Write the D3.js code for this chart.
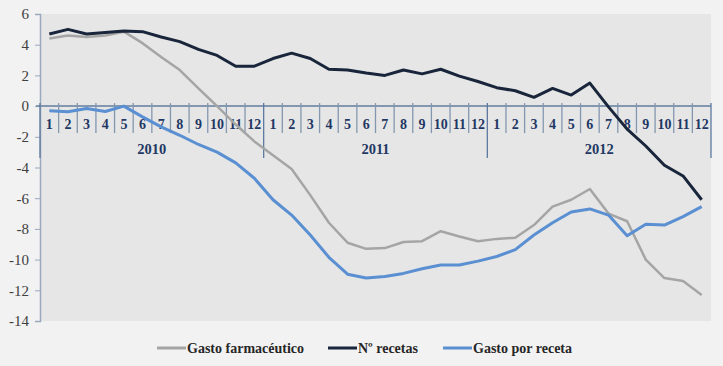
<!DOCTYPE html>
<head>
  <meta charset="utf-8">
  <script src="https://d3js.org/d3.v7.min.js"></script>
  <style>
    body { margin: 0; background: #f2f2f2; }
    svg { display: block; }
  </style>
</head>

<body>
  <svg width="723" height="366"></svg>
  <script>
    // data
    var years = ["2010", "2011", "2012"];
    var months = ["1", "2", "3", "4", "5", "6", "7", "8", "9", "10", "11", "12"];
    var yTicks = [-14, -12, -10, -8, -6, -4, -2, 0, 2, 4, 6];

    var gastoFarma = [4.4, 4.6, 4.5, 4.6, 4.85, 4.1, 3.2, 2.35, 1.15, 0.0, -1.2, -2.3,
                      -3.2, -4.1, -5.8, -7.6, -8.9, -9.3, -9.25, -8.85, -8.8, -8.15, -8.5, -8.8,
                      -8.65, -8.58, -7.75, -6.55, -6.1, -5.4, -7.0, -7.5, -10.0, -11.2, -11.4, -12.3];
    var nRecetas = [4.7, 5.0, 4.7, 4.8, 4.9, 4.85, 4.5, 4.2, 3.7, 3.3, 2.6, 2.6,
                    3.1, 3.45, 3.1, 2.4, 2.35, 2.15, 2.0, 2.35, 2.1, 2.4, 1.95, 1.6,
                    1.2, 1.0, 0.57, 1.15, 0.72, 1.5, -0.05, -1.5, -2.6, -3.85, -4.55, -6.1];
    var gastoReceta = [-0.3, -0.37, -0.15, -0.35, 0.0, -0.7, -1.35, -1.9, -2.5, -3.0, -3.7, -4.7,
                       -6.1, -7.1, -8.4, -9.85, -10.95, -11.2, -11.1, -10.9, -10.6, -10.35, -10.35, -10.1,
                       -9.8, -9.35, -8.4, -7.6, -6.9, -6.7, -7.1, -8.45, -7.7, -7.75, -7.2, -6.55];

    var series = [
      { name: "Gasto farmacéutico", values: gastoFarma, color: "#a5a5a5", width: 2.5 },
      { name: "Nº recetas", values: nRecetas, color: "#18253a", width: 3 },
      { name: "Gasto por receta", values: gastoReceta, color: "#5a8fd2", width: 3 }
    ];

    // categories: every month of every year
    var cats = [];
    years.forEach(function(y) {
      months.forEach(function(m) { cats.push(y + "-" + m); });
    });

    // options
    var margin = { top: 14, right: 12, bottom: 45, left: 40 };
    var width = 723, height = 366;
    var axisColor = "#8497b0";
    var textColor = "#1f3864";

    // scales
    var x = d3.scaleBand()
      .domain(cats)
      .range([margin.left, width - margin.right]);
    var y = d3.scaleLinear()
      .domain([-14, 6])
      .range([height - margin.bottom, margin.top]);

    var svg = d3.select('svg');

    // plot area
    svg.append('rect')
      .attr('x', margin.left)
      .attr('y', margin.top)
      .attr('width', width - margin.right - margin.left)
      .attr('height', y(-14) - y(6))
      .attr('fill', '#e6e6e6');

    // y axis
    var yAxis = d3.axisLeft(y)
      .tickValues(yTicks)
      .tickSize(5)
      .tickPadding(6)
      .tickFormat(d3.format('d'));
    var gy = svg.append('g')
      .attr('transform', 'translate(' + margin.left + ',0)')
      .call(yAxis);
    gy.select('.domain').attr('stroke', '#9aa9bd').attr('stroke-width', 1.5);
    gy.selectAll('.tick line').attr('stroke', '#9aa9bd');
    gy.selectAll('.tick text')
      .attr('fill', '#404040')
      .style('font-family', '"Liberation Serif", serif')
      .style('font-size', '15px')
      .text(function(d) { return d < 0 ? '-' + Math.abs(d) : d; });

    // x axis at zero
    var y0 = y(0);
    svg.append('line')
      .attr('x1', margin.left - 4).attr('x2', width - margin.right)
      .attr('y1', y0).attr('y2', y0)
      .attr('stroke', axisColor).attr('stroke-width', 2);

    // month separators
    svg.selectAll('.mtick')
      .data(cats.concat(['end']))
      .enter().append('line')
      .attr('class', 'mtick')
      .attr('x1', function(d, i) { return margin.left + i * x.bandwidth(); })
      .attr('x2', function(d, i) { return margin.left + i * x.bandwidth(); })
      .attr('y1', y0 - 3)
      .attr('y2', function(d, i) { return i % 12 === 0 ? y0 + 52 : y0 + 27; })
      .attr('stroke', function(d, i) { return i % 12 === 0 ? '#5d78a0' : axisColor; })
      .attr('stroke-width', 1.3);

    // month labels
    svg.selectAll('.mlabel')
      .data(cats)
      .enter().append('text')
      .attr('class', 'mlabel')
      .attr('x', function(d) { return x(d) + x.bandwidth() / 2; })
      .attr('y', y0 + 23)
      .attr('text-anchor', 'middle')
      .attr('fill', textColor)
      .style('font-family', '"Liberation Serif", serif')
      .style('font-weight', 'bold')
      .style('font-size', '14px')
      .text(function(d) { return d.split('-')[1]; });

    // year labels
    svg.selectAll('.ylabel')
      .data(years)
      .enter().append('text')
      .attr('class', 'ylabel')
      .attr('x', function(d) { return (x(d + '-1') + x(d + '-12') + x.bandwidth()) / 2; })
      .attr('y', y0 + 48)
      .attr('text-anchor', 'middle')
      .attr('fill', textColor)
      .style('font-family', '"Liberation Serif", serif')
      .style('font-weight', 'bold')
      .style('font-size', '14.5px')
      .text(function(d) { return d; });

    // lines
    var line = d3.line()
      .x(function(d, i) { return x(cats[i]) + x.bandwidth() / 2; })
      .y(function(d) { return y(d); });

    svg.selectAll('.series')
      .data(series)
      .enter().append('path')
      .attr('class', 'series')
      .attr('d', function(s) { return line(s.values); })
      .attr('fill', 'none')
      .attr('stroke', function(s) { return s.color; })
      .attr('stroke-width', function(s) { return s.width; })
      .attr('stroke-linejoin', 'round');

    // legend
    var legendX = [157, 328, 443];
    var leg = svg.selectAll('.legend')
      .data(series)
      .enter().append('g')
      .attr('class', 'legend')
      .attr('transform', function(d, i) { return 'translate(' + legendX[i] + ',348)'; });
    leg.append('line')
      .attr('x1', 0).attr('x2', 29)
      .attr('stroke', function(s) { return s.color; })
      .attr('stroke-width', 3);
    leg.append('text')
      .attr('x', 30)
      .attr('y', 5)
      .attr('fill', '#262626')
      .style('font-family', '"Liberation Serif", serif')
      .style('font-weight', 'bold')
      .style('font-size', '14px')
      .text(function(s) { return s.name; });
  </script>
</body>
</html>
